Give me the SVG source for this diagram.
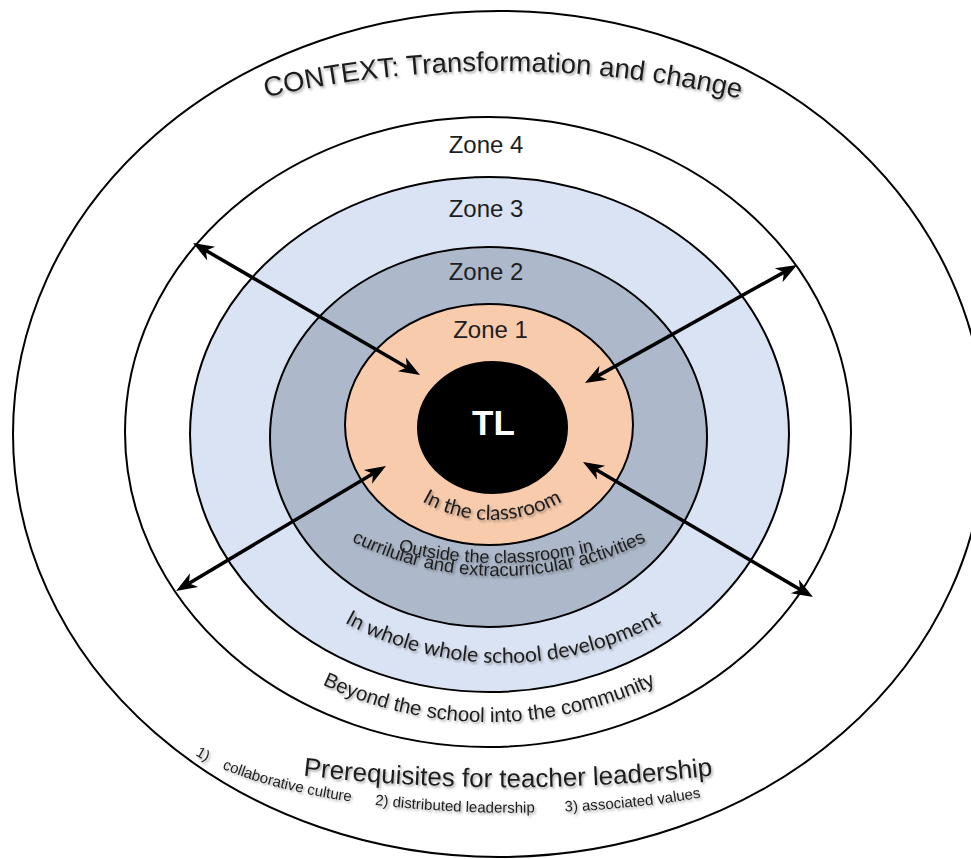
<svg xmlns="http://www.w3.org/2000/svg" width="971" height="859" viewBox="0 0 971 859">
  <style>
    .ring { stroke: #000; stroke-width: 2; }
    .arrow { stroke: #000; stroke-width: 3.5; fill: none; marker-start: url(#head); marker-end: url(#head); }
    .zone-label { font-family: "Liberation Sans", Arial, sans-serif; font-size: 24px; fill: #1e1e1e; text-anchor: middle; }
    .arc-sans { font-family: "Liberation Sans", Arial, sans-serif; fill: #1e1e1e; }
    .arc-hum { font-family: Lato, "Open Sans", sans-serif; fill: #1e1e1e; }
    .soft { filter: url(#textShadow); }
  </style>
  <defs>
    <marker id="head" viewBox="-17 -10 25 20" refX="0" refY="0" markerWidth="25" markerHeight="20" markerUnits="userSpaceOnUse" orient="auto-start-reverse">
      <path d="M 6 0 L -15 -8 L -9 0 L -15 8 Z" fill="#000"/>
    </marker>
    <filter id="textShadow" x="-10%" y="-30%" width="120%" height="170%">
      <feDropShadow dx="1.5" dy="2" stdDeviation="1.2" flood-color="#000" flood-opacity="0.33"/>
    </filter>
    <!-- baselines for the curved captions -->
    <path id="p-context" d="M 200 114.3 A 1060 1060 0 0 1 800 114.3"/>
    <path id="p-z1" d="M 351 379 A 141 141 0 0 0 633 379"/>
    <path id="p-z2a" d="M 96 163 A 400 400 0 0 0 896 163"/>
    <path id="p-z2b" d="M 169 246 A 330 330 0 0 0 829 246"/>
    <path id="p-z3" d="M 173 333 A 330 330 0 0 0 833 333"/>
    <path id="p-z4" d="M 99 332 A 390 390 0 0 0 879 332"/>
    <path id="p-pre" d="M 208 762 A 1800 1800 0 0 0 808 762"/>
    <path id="p-list" d="M 195 755 C 300 817, 560 829, 735 791"/>
  </defs>

  <rect width="971" height="859" fill="#fff"/>

  <!-- concentric zones, outermost first -->
  <g id="context">
    <ellipse class="ring" cx="499" cy="434" rx="486" ry="423" fill="#fff"/>
  </g>
  <g id="zone4">
    <ellipse class="ring" cx="488" cy="432" rx="363" ry="315" fill="#fff"/>
  </g>
  <g id="zone3">
    <ellipse class="ring" cx="489.5" cy="434.5" rx="299.5" ry="257.5" fill="#dae3f3"/>
  </g>
  <g id="zone2">
    <ellipse class="ring" cx="488.5" cy="437" rx="218.5" ry="190" fill="#adb9ca"/>
  </g>
  <g id="zone1">
    <ellipse class="ring" cx="489" cy="424.5" rx="144" ry="120.5" fill="#f8cbad"/>
  </g>
  <g id="tl">
    <ellipse cx="492.5" cy="427.5" rx="74.5" ry="65.5" fill="#000" stroke="#000" stroke-width="2"/>
    <text x="493.5" y="435" font-family="Liberation Sans, Arial, sans-serif" font-size="35" font-weight="bold" fill="#fff" text-anchor="middle">TL</text>
  </g>

  <!-- two-headed arrows between TL and the zones -->
  <g id="connectors">
    <line class="arrow" x1="198.2" y1="246" x2="414.8" y2="372"/>
    <line class="arrow" x1="791.8" y1="267.9" x2="590.2" y2="380.1"/>
    <line class="arrow" x1="181.2" y1="587.9" x2="380.8" y2="469.1"/>
    <line class="arrow" x1="807.8" y1="594" x2="588.2" y2="465"/>
  </g>

  <!-- zone names -->
  <g id="zone-names">
    <text class="zone-label" x="486" y="153">Zone 4</text>
    <text class="zone-label" x="486" y="216.5">Zone 3</text>
    <text class="zone-label" x="486" y="280">Zone 2</text>
    <text class="zone-label" x="490.5" y="338">Zone 1</text>
  </g>

  <!-- curved captions -->
  <g id="captions" class="soft">
    <text class="arc-sans" font-size="27.5"><textPath href="#p-context" startOffset="50.5%" text-anchor="middle">CONTEXT: Transformation and change</textPath></text>
    <text class="arc-hum" font-size="20.5"><textPath href="#p-z1" startOffset="50%" text-anchor="middle">In the classroom</textPath></text>
    <text class="arc-sans" font-size="18"><textPath href="#p-z2a" startOffset="50%" text-anchor="middle">Outside the classroom in</textPath></text>
    <text class="arc-sans" font-size="18.5"><textPath href="#p-z2b" startOffset="50%" text-anchor="middle">currilular and extracurricular activities</textPath></text>
    <text class="arc-hum" font-size="21"><textPath href="#p-z3" startOffset="50%" text-anchor="middle">In whole whole school development</textPath></text>
    <text class="arc-sans" font-size="20.4"><textPath href="#p-z4" startOffset="50%" text-anchor="middle">Beyond the school into the community</textPath></text>
    <text class="arc-sans" font-size="26"><textPath href="#p-pre" startOffset="50%" text-anchor="middle">Prerequisites for teacher leadership</textPath></text>
    <text class="arc-sans" font-size="15" fill="#333"><textPath href="#p-list"><tspan>1)</tspan><tspan dx="17">collaborative culture</tspan><tspan dx="24">2) distributed leadership</tspan><tspan dx="30">3) associated values</tspan></textPath></text>
  </g>
</svg>
